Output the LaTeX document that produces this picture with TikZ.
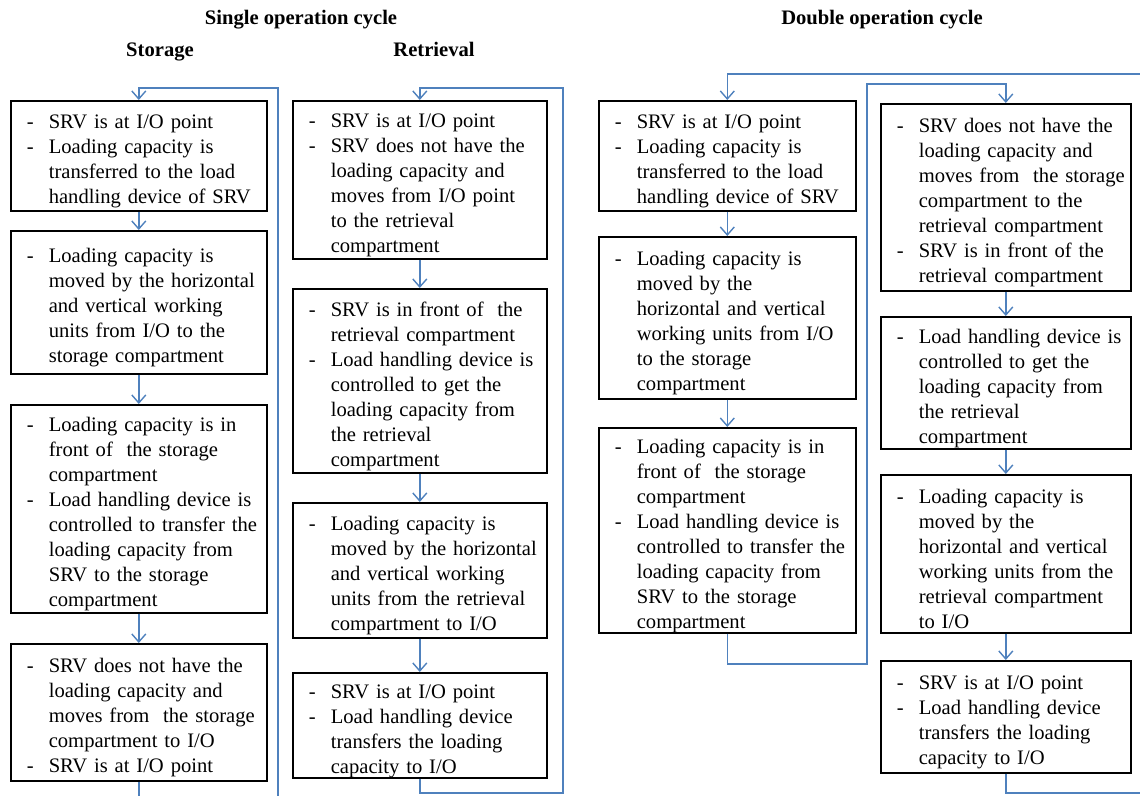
\documentclass[tikz,border=0pt]{standalone}
\usepackage{fontspec}
\setmainfont{Liberation Serif}
\usetikzlibrary{arrows.meta}
\definecolor{flowblue}{RGB}{79,129,189}
\newcommand\dsh{\par\hangindent=17pt\hangafter=1\noindent\makebox[17pt][l]{\hspace{6pt}-}}

\begin{document}
\begin{tikzpicture}[x=0.5pt,y=-0.5pt,
    box/.style={draw,line width=0.8pt,anchor=north west,align=left,inner xsep=2pt,inner ysep=0pt,
      font=\fontsize{10.3}{12.5}\selectfont},
    head/.style={inner sep=0pt,anchor=base,font=\fontsize{10.3}{12.5}\selectfont\bfseries},
    flow/.style={draw=flowblue,line width=0.7pt,-{Straight Barb[length=4pt,width=7pt]}}]
      \useasboundingbox(0,0)rectangle(1140,796);
      \clip(0,0)rectangle(1140,796);
      % titles
      \node[head](single)at(301,25){Single operation cycle};
      \node[head](double)at(882,25){Double operation cycle};
      \node[head](stor)at(160,57){Storage};
      \node[head](retr)at(434,57){Retrieval};
      % single cycle, storage
      \node[box,text width=124pt,minimum height=55pt](S1)at(10,100){\dsh SRV is at I/O point
        \dsh Loading capacity is\newline transferred to the load\newline handling device of SRV\par};
      \node[box,text width=124pt,minimum height=71.5pt](S2)at(10,230){\dsh Loading capacity is\newline moved by the horizontal\newline
        and vertical working\newline units from I/O to the\newline storage compartment\par};
      \node[box,text width=124pt,minimum height=104pt](S3)at(10,404){\dsh Loading capacity is in\newline front of \ the storage\newline compartment
        \dsh Load handling device is\newline controlled to transfer the\newline loading capacity from\newline SRV to the storage\newline compartment\par};
      \node[box,text width=124pt,minimum height=68.5pt](S4)at(10,643){\dsh SRV does not have the\newline loading capacity and\newline
        moves from \ the storage\newline compartment to I/O \dsh SRV is at I/O point\par};
      % single cycle, retrieval
      \node[box,text width=123pt,minimum height=79pt](R1)at(292,100){\dsh SRV is at I/O point
        \dsh SRV does not have the\newline loading capacity and\newline moves from I/O point\newline to the retrieval\newline compartment\par};
      \node[box,text width=123pt,minimum height=92pt](R2)at(292,288){\dsh SRV is in front of \ the\newline retrieval compartment
        \dsh Load handling device is\newline controlled to get the\newline loading capacity from\newline the retrieval\newline compartment\par};
      \node[box,text width=123pt,minimum height=67.5pt](R3)at(292,502){\dsh Loading capacity is\newline moved by the horizontal\newline
        and vertical working\newline units from the retrieval\newline compartment to I/O\par};
      \node[box,text width=123pt,minimum height=52.5pt](R4)at(292,672){\dsh SRV is at I/O point
        \dsh Load handling device\newline transfers the loading\newline capacity to I/O\par};
      % double cycle, storage part
      \node[box,text width=124.5pt,minimum height=55pt](D1)at(598,100){\dsh SRV is at I/O point
        \dsh Loading capacity is\newline transferred to the load\newline handling device of SRV\par};
      \node[box,text width=124.5pt,minimum height=81pt](D2)at(598,236){\dsh Loading capacity is\newline moved by the\newline
        horizontal and vertical\newline working units from I/O\newline to the storage\newline compartment\par};
      \node[box,text width=124.5pt,minimum height=102.5pt](D3)at(598,427){\dsh Loading capacity is in\newline front of \ the storage\newline compartment
        \dsh Load handling device is\newline controlled to transfer the\newline loading capacity from\newline SRV to the storage\newline compartment\par};
      % double cycle, retrieval part
      \node[box,text width=121pt,minimum height=93.5pt](E1)at(880,103){\dsh SRV does not have the\newline loading capacity and\newline
        moves from \ the storage\newline compartment to the\newline retrieval compartment
        \dsh SRV is in front of the\newline retrieval compartment\par};
      \node[box,text width=121pt,minimum height=66pt](E2)at(880,316){\dsh Load handling device is\newline controlled to get the\newline
        loading capacity from\newline the retrieval\newline compartment\par};
      \node[box,text width=121pt,minimum height=79pt](E3)at(880,474){\dsh Loading capacity is\newline moved by the\newline
        horizontal and vertical\newline working units from the\newline retrieval compartment\newline to I/O\par};
      \node[box,text width=121pt,minimum height=56pt](E4)at(880,660){\dsh SRV is at I/O point
        \dsh Load handling device\newline transfers the loading\newline capacity to I/O\par};
      \foreach \a/\b in{S1/S2,S2/S3,S3/S4,R1/R2,R2/R3,R3/R4,D1/D2,D2/D3,E1/E2,E2/E3,E3/E4}{
        \draw[flow](\a)--(\b);
      }
      % return loops
      \coordinate(sA)at(278,830);\coordinate(sT)at(278,88);
      \coordinate(rA)at(563,793);\coordinate(rT)at(563,88);
      \coordinate(dA)at(867,664);\coordinate(dT)at(867,84);
      \coordinate(eA)at(1170,793);\coordinate(eT)at(1170,74);
      \draw[flow](S4.south)|-(sA)--(sT)-|(S1.north);
      \draw[flow](R4.south)|-(rA)--(rT)-|(R1.north);
      \draw[flow](D3.south)|-(dA)--(dT)-|(E1.north);
      \draw[flow](E4.south)|-(eA)--(eT)-|(D1.north);
    \end{tikzpicture}
\end{document}
